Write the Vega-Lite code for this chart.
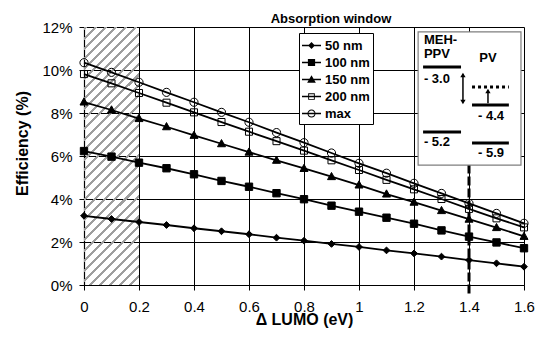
{
  "$schema": "https://vega.github.io/schema/vega-lite/v6.json",
  "width": 440,
  "height": 258,
  "autosize": {"type": "none"},
  "padding": {"left": 84, "top": 27, "right": 12, "bottom": 56},
  "config": {
    "font": "Liberation Sans",
    "view": {"stroke": null},
    "axis": {"labelColor": "black", "titleColor": "black", "domainColor": "black", "tickColor": "black", "gridColor": "#000000", "gridOpacity": 1, "gridWidth": 1, "gridDash": [], "domainWidth": 1.2}
  },
  "title": {"text": "Absorption window", "fontSize": 13, "fontWeight": "bold", "color": "black", "anchor": "middle", "dx": 27, "offset": -6},
  "resolve": {"scale": {"shape": "independent"}, "legend": {"shape": "independent"}},
  "datasets": {
    "series": [
      {"s": "50 nm", "x": 0, "y": 3.22}, {"s": "50 nm", "x": 0.1, "y": 3.07}, {"s": "50 nm", "x": 0.2, "y": 2.93}, {"s": "50 nm", "x": 0.3, "y": 2.79}, {"s": "50 nm", "x": 0.4, "y": 2.64}, {"s": "50 nm", "x": 0.5, "y": 2.5}, {"s": "50 nm", "x": 0.6, "y": 2.36}, {"s": "50 nm", "x": 0.7, "y": 2.2}, {"s": "50 nm", "x": 0.8, "y": 2.06}, {"s": "50 nm", "x": 0.9, "y": 1.91}, {"s": "50 nm", "x": 1.0, "y": 1.77}, {"s": "50 nm", "x": 1.1, "y": 1.61}, {"s": "50 nm", "x": 1.2, "y": 1.47}, {"s": "50 nm", "x": 1.3, "y": 1.32}, {"s": "50 nm", "x": 1.4, "y": 1.16}, {"s": "50 nm", "x": 1.5, "y": 1.01}, {"s": "50 nm", "x": 1.6, "y": 0.85},
      {"s": "100 nm", "x": 0, "y": 6.23}, {"s": "100 nm", "x": 0.1, "y": 5.97}, {"s": "100 nm", "x": 0.2, "y": 5.69}, {"s": "100 nm", "x": 0.3, "y": 5.43}, {"s": "100 nm", "x": 0.4, "y": 5.15}, {"s": "100 nm", "x": 0.5, "y": 4.84}, {"s": "100 nm", "x": 0.6, "y": 4.57}, {"s": "100 nm", "x": 0.7, "y": 4.27}, {"s": "100 nm", "x": 0.8, "y": 3.99}, {"s": "100 nm", "x": 0.9, "y": 3.69}, {"s": "100 nm", "x": 1.0, "y": 3.41}, {"s": "100 nm", "x": 1.1, "y": 3.13}, {"s": "100 nm", "x": 1.2, "y": 2.85}, {"s": "100 nm", "x": 1.3, "y": 2.54}, {"s": "100 nm", "x": 1.4, "y": 2.25}, {"s": "100 nm", "x": 1.5, "y": 1.98}, {"s": "100 nm", "x": 1.6, "y": 1.71},
      {"s": "150 nm", "x": 0, "y": 8.51}, {"s": "150 nm", "x": 0.1, "y": 8.14}, {"s": "150 nm", "x": 0.2, "y": 7.74}, {"s": "150 nm", "x": 0.3, "y": 7.36}, {"s": "150 nm", "x": 0.4, "y": 6.96}, {"s": "150 nm", "x": 0.5, "y": 6.57}, {"s": "150 nm", "x": 0.6, "y": 6.18}, {"s": "150 nm", "x": 0.7, "y": 5.8}, {"s": "150 nm", "x": 0.8, "y": 5.42}, {"s": "150 nm", "x": 0.9, "y": 5.04}, {"s": "150 nm", "x": 1.0, "y": 4.65}, {"s": "150 nm", "x": 1.1, "y": 4.23}, {"s": "150 nm", "x": 1.2, "y": 3.85}, {"s": "150 nm", "x": 1.3, "y": 3.46}, {"s": "150 nm", "x": 1.4, "y": 3.06}, {"s": "150 nm", "x": 1.5, "y": 2.67}, {"s": "150 nm", "x": 1.6, "y": 2.26},
      {"s": "200 nm", "x": 0, "y": 9.81}, {"s": "200 nm", "x": 0.1, "y": 9.38}, {"s": "200 nm", "x": 0.2, "y": 8.93}, {"s": "200 nm", "x": 0.3, "y": 8.48}, {"s": "200 nm", "x": 0.4, "y": 8.03}, {"s": "200 nm", "x": 0.5, "y": 7.58}, {"s": "200 nm", "x": 0.6, "y": 7.13}, {"s": "200 nm", "x": 0.7, "y": 6.69}, {"s": "200 nm", "x": 0.8, "y": 6.25}, {"s": "200 nm", "x": 0.9, "y": 5.8}, {"s": "200 nm", "x": 1.0, "y": 5.35}, {"s": "200 nm", "x": 1.1, "y": 4.89}, {"s": "200 nm", "x": 1.2, "y": 4.45}, {"s": "200 nm", "x": 1.3, "y": 4.0}, {"s": "200 nm", "x": 1.4, "y": 3.54}, {"s": "200 nm", "x": 1.5, "y": 3.1}, {"s": "200 nm", "x": 1.6, "y": 2.68},
      {"s": "max", "x": 0, "y": 10.34}, {"s": "max", "x": 0.1, "y": 9.89}, {"s": "max", "x": 0.2, "y": 9.43}, {"s": "max", "x": 0.3, "y": 8.96}, {"s": "max", "x": 0.4, "y": 8.5}, {"s": "max", "x": 0.5, "y": 8.03}, {"s": "max", "x": 0.6, "y": 7.57}, {"s": "max", "x": 0.7, "y": 7.09}, {"s": "max", "x": 0.8, "y": 6.62}, {"s": "max", "x": 0.9, "y": 6.14}, {"s": "max", "x": 1.0, "y": 5.66}, {"s": "max", "x": 1.1, "y": 5.2}, {"s": "max", "x": 1.2, "y": 4.73}, {"s": "max", "x": 1.3, "y": 4.26}, {"s": "max", "x": 1.4, "y": 3.8}, {"s": "max", "x": 1.5, "y": 3.33}, {"s": "max", "x": 1.6, "y": 2.87}
    ],
    "window": [{"x": 0, "x2": 0.2, "y": 0, "y2": 12}],
    "marker": [{"x": 1.4, "y": -0.4, "y2": 5.6}],
    "box": [{"x": 1.215, "x2": 1.589, "y": 5.58, "y2": 11.77}],
    "levels": [
      {"x": 1.233, "x2": 1.371, "y": 10.14},
      {"x": 1.233, "x2": 1.371, "y": 7.12},
      {"x": 1.411, "x2": 1.545, "y": 8.37},
      {"x": 1.411, "x2": 1.545, "y": 6.6}
    ],
    "dotted": [{"x": 1.411, "x2": 1.545, "y": 9.21}],
    "shafts": [{"x": 1.378, "y": 8.5, "y2": 9.8}, {"x": 1.469, "y": 8.45, "y2": 9.05}],
    "headsUp": [{"x": 1.378, "y": 9.77}, {"x": 1.469, "y": 9.02}],
    "headsDown": [{"x": 1.378, "y": 8.51}],
    "leftText": [
      {"t": "MEH-", "x": 1.236, "y": 11.4},
      {"t": "PPV", "x": 1.236, "y": 10.74},
      {"t": "- 3.0", "x": 1.236, "y": 9.58},
      {"t": "- 5.2", "x": 1.236, "y": 6.65}
    ],
    "centerText": [
      {"t": "PV", "x": 1.469, "y": 10.56},
      {"t": "- 4.4", "x": 1.48, "y": 7.86},
      {"t": "- 5.9", "x": 1.48, "y": 6.14}
    ]
  },
  "encoding": {
    "x": {
      "field": "x", "type": "quantitative",
      "scale": {"domain": [0, 1.6], "nice": false, "zero": false},
      "axis": {"values": [0, 0.2, 0.4, 0.6, 0.8, 1, 1.2, 1.4, 1.6], "format": "~g", "grid": true, "gridColor": "#000000", "gridDash": [], "labelFontSize": 15, "labelFlush": false, "tickSize": 5, "labelPadding": 9, "title": "Δ LUMO (eV)", "titleFontSize": 16, "titleFontWeight": "bold", "titlePadding": -3}
    },
    "y": {
      "field": "y", "type": "quantitative",
      "scale": {"domain": [0, 12], "nice": false, "zero": false},
      "axis": {"values": [0, 2, 4, 6, 8, 10, 12], "labelExpr": "datum.value + '%'", "grid": true, "gridColor": "#000000", "gridDash": [], "labelFontSize": 15, "labelFlush": false, "tickSize": 5, "labelPadding": 7, "title": "Efficiency (%)", "titleFontSize": 16, "titleFontWeight": "bold", "titlePadding": 11, "titleY": 116}
    }
  },
  "layer": [
    {
      "data": {"name": "window"},
      "mark": {
        "type": "rect",
        "fill": {
          "gradient": "linear", "x1": 0, "y1": 0, "x2": 0.247, "y2": 1.16,
          "stops": [
            {"offset": 0, "color": "#9e9e9e"}, {"offset": 0.0097, "color": "#9e9e9e"}, {"offset": 0.0097, "color": "rgba(255,255,255,0)"}, {"offset": 0.03226, "color": "rgba(255,255,255,0)"},
            {"offset": 0.03226, "color": "#9e9e9e"}, {"offset": 0.04194, "color": "#9e9e9e"}, {"offset": 0.04194, "color": "rgba(255,255,255,0)"}, {"offset": 0.06452, "color": "rgba(255,255,255,0)"},
            {"offset": 0.06452, "color": "#9e9e9e"}, {"offset": 0.0742, "color": "#9e9e9e"}, {"offset": 0.0742, "color": "rgba(255,255,255,0)"}, {"offset": 0.09677, "color": "rgba(255,255,255,0)"},
            {"offset": 0.09677, "color": "#9e9e9e"}, {"offset": 0.10645, "color": "#9e9e9e"}, {"offset": 0.10645, "color": "rgba(255,255,255,0)"}, {"offset": 0.12903, "color": "rgba(255,255,255,0)"},
            {"offset": 0.12903, "color": "#9e9e9e"}, {"offset": 0.13871, "color": "#9e9e9e"}, {"offset": 0.13871, "color": "rgba(255,255,255,0)"}, {"offset": 0.16129, "color": "rgba(255,255,255,0)"},
            {"offset": 0.16129, "color": "#9e9e9e"}, {"offset": 0.17097, "color": "#9e9e9e"}, {"offset": 0.17097, "color": "rgba(255,255,255,0)"}, {"offset": 0.19355, "color": "rgba(255,255,255,0)"},
            {"offset": 0.19355, "color": "#9e9e9e"}, {"offset": 0.20323, "color": "#9e9e9e"}, {"offset": 0.20323, "color": "rgba(255,255,255,0)"}, {"offset": 0.22581, "color": "rgba(255,255,255,0)"},
            {"offset": 0.22581, "color": "#9e9e9e"}, {"offset": 0.23549, "color": "#9e9e9e"}, {"offset": 0.23549, "color": "rgba(255,255,255,0)"}, {"offset": 0.25806, "color": "rgba(255,255,255,0)"},
            {"offset": 0.25806, "color": "#9e9e9e"}, {"offset": 0.26774, "color": "#9e9e9e"}, {"offset": 0.26774, "color": "rgba(255,255,255,0)"}, {"offset": 0.29032, "color": "rgba(255,255,255,0)"},
            {"offset": 0.29032, "color": "#9e9e9e"}, {"offset": 0.3, "color": "#9e9e9e"}, {"offset": 0.3, "color": "rgba(255,255,255,0)"}, {"offset": 0.32258, "color": "rgba(255,255,255,0)"},
            {"offset": 0.32258, "color": "#9e9e9e"}, {"offset": 0.33226, "color": "#9e9e9e"}, {"offset": 0.33226, "color": "rgba(255,255,255,0)"}, {"offset": 0.35484, "color": "rgba(255,255,255,0)"},
            {"offset": 0.35484, "color": "#9e9e9e"}, {"offset": 0.36452, "color": "#9e9e9e"}, {"offset": 0.36452, "color": "rgba(255,255,255,0)"}, {"offset": 0.3871, "color": "rgba(255,255,255,0)"},
            {"offset": 0.3871, "color": "#9e9e9e"}, {"offset": 0.39678, "color": "#9e9e9e"}, {"offset": 0.39678, "color": "rgba(255,255,255,0)"}, {"offset": 0.41935, "color": "rgba(255,255,255,0)"},
            {"offset": 0.41935, "color": "#9e9e9e"}, {"offset": 0.42903, "color": "#9e9e9e"}, {"offset": 0.42903, "color": "rgba(255,255,255,0)"}, {"offset": 0.45161, "color": "rgba(255,255,255,0)"},
            {"offset": 0.45161, "color": "#9e9e9e"}, {"offset": 0.46129, "color": "#9e9e9e"}, {"offset": 0.46129, "color": "rgba(255,255,255,0)"}, {"offset": 0.48387, "color": "rgba(255,255,255,0)"},
            {"offset": 0.48387, "color": "#9e9e9e"}, {"offset": 0.49355, "color": "#9e9e9e"}, {"offset": 0.49355, "color": "rgba(255,255,255,0)"}, {"offset": 0.51613, "color": "rgba(255,255,255,0)"},
            {"offset": 0.51613, "color": "#9e9e9e"}, {"offset": 0.52581, "color": "#9e9e9e"}, {"offset": 0.52581, "color": "rgba(255,255,255,0)"}, {"offset": 0.54839, "color": "rgba(255,255,255,0)"},
            {"offset": 0.54839, "color": "#9e9e9e"}, {"offset": 0.55807, "color": "#9e9e9e"}, {"offset": 0.55807, "color": "rgba(255,255,255,0)"}, {"offset": 0.58065, "color": "rgba(255,255,255,0)"},
            {"offset": 0.58065, "color": "#9e9e9e"}, {"offset": 0.59033, "color": "#9e9e9e"}, {"offset": 0.59033, "color": "rgba(255,255,255,0)"}, {"offset": 0.6129, "color": "rgba(255,255,255,0)"},
            {"offset": 0.6129, "color": "#9e9e9e"}, {"offset": 0.62258, "color": "#9e9e9e"}, {"offset": 0.62258, "color": "rgba(255,255,255,0)"}, {"offset": 0.64516, "color": "rgba(255,255,255,0)"},
            {"offset": 0.64516, "color": "#9e9e9e"}, {"offset": 0.65484, "color": "#9e9e9e"}, {"offset": 0.65484, "color": "rgba(255,255,255,0)"}, {"offset": 0.67742, "color": "rgba(255,255,255,0)"},
            {"offset": 0.67742, "color": "#9e9e9e"}, {"offset": 0.6871, "color": "#9e9e9e"}, {"offset": 0.6871, "color": "rgba(255,255,255,0)"}, {"offset": 0.70968, "color": "rgba(255,255,255,0)"},
            {"offset": 0.70968, "color": "#9e9e9e"}, {"offset": 0.71936, "color": "#9e9e9e"}, {"offset": 0.71936, "color": "rgba(255,255,255,0)"}, {"offset": 0.74194, "color": "rgba(255,255,255,0)"},
            {"offset": 0.74194, "color": "#9e9e9e"}, {"offset": 0.75162, "color": "#9e9e9e"}, {"offset": 0.75162, "color": "rgba(255,255,255,0)"}, {"offset": 0.77419, "color": "rgba(255,255,255,0)"},
            {"offset": 0.77419, "color": "#9e9e9e"}, {"offset": 0.78387, "color": "#9e9e9e"}, {"offset": 0.78387, "color": "rgba(255,255,255,0)"}, {"offset": 0.80645, "color": "rgba(255,255,255,0)"},
            {"offset": 0.80645, "color": "#9e9e9e"}, {"offset": 0.81613, "color": "#9e9e9e"}, {"offset": 0.81613, "color": "rgba(255,255,255,0)"}, {"offset": 0.83871, "color": "rgba(255,255,255,0)"},
            {"offset": 0.83871, "color": "#9e9e9e"}, {"offset": 0.84839, "color": "#9e9e9e"}, {"offset": 0.84839, "color": "rgba(255,255,255,0)"}, {"offset": 0.87097, "color": "rgba(255,255,255,0)"},
            {"offset": 0.87097, "color": "#9e9e9e"}, {"offset": 0.88065, "color": "#9e9e9e"}, {"offset": 0.88065, "color": "rgba(255,255,255,0)"}, {"offset": 0.90323, "color": "rgba(255,255,255,0)"},
            {"offset": 0.90323, "color": "#9e9e9e"}, {"offset": 0.91291, "color": "#9e9e9e"}, {"offset": 0.91291, "color": "rgba(255,255,255,0)"}, {"offset": 0.93548, "color": "rgba(255,255,255,0)"},
            {"offset": 0.93548, "color": "#9e9e9e"}, {"offset": 0.94516, "color": "#9e9e9e"}, {"offset": 0.94516, "color": "rgba(255,255,255,0)"}, {"offset": 0.96774, "color": "rgba(255,255,255,0)"},
            {"offset": 0.96774, "color": "#9e9e9e"}, {"offset": 0.97742, "color": "#9e9e9e"}, {"offset": 0.97742, "color": "rgba(255,255,255,0)"}, {"offset": 1, "color": "rgba(255,255,255,0)"}
          ]
        }
      },
      "encoding": {"x2": {"field": "x2"}, "y2": {"field": "y2"}}
    },
    {
      "data": {"name": "series"},
      "mark": {"type": "line", "color": "black", "strokeWidth": 1.8},
      "encoding": {"detail": {"field": "s"}}
    },
    {
      "data": {"name": "series"},
      "mark": {"type": "point", "stroke": "black", "strokeWidth": 1, "opacity": 1, "size": 64},
      "encoding": {
        "shape": {
          "field": "s", "type": "nominal", "legend": null,
          "scale": {"domain": ["50 nm", "100 nm", "150 nm", "200 nm", "max"], "range": ["M0,-0.85L0.85,0L0,0.85L-0.85,0Z", "M-0.92,-0.92H0.92V0.92H-0.92Z", "M0,-1.05L1,0.75H-1Z", "M-0.88,-0.88H0.88V0.88H-0.88Z", "M1.02,0A1.02,1.02 0 1,1 -1.02,0A1.02,1.02 0 1,1 1.02,0Z"]}
        },
        "fill": {
          "field": "s", "type": "nominal", "legend": null,
          "scale": {"domain": ["50 nm", "100 nm", "150 nm", "200 nm", "max"], "range": ["black", "black", "black", "transparent", "transparent"]}
        }
      }
    },
    {
      "data": {"name": "series"},
      "mark": {"type": "point", "filled": true, "color": "black", "opacity": 0, "size": 361},
      "encoding": {
        "shape": {
          "field": "s", "type": "nominal", "title": null,
          "scale": {"domain": ["50 nm", "100 nm", "150 nm", "200 nm", "max"], "range": [
            "M-1,-0.09H1V0.09H-1ZM0,-0.36L0.36,0L0,0.36L-0.36,0Z",
            "M-1,-0.09H1V0.09H-1ZM-0.38,-0.38H0.38V0.38H-0.38Z",
            "M-1,-0.09H1V0.09H-1ZM0,-0.46L0.46,0.33H-0.46Z",
            "M-1,-0.09H1V0.09H-1ZM-0.35,-0.35H0.35V0.35H-0.35ZM-0.25,-0.25V0.25H0.25V-0.25Z",
            "M-1,-0.09H1V0.09H-1ZM0.43,0A0.43,0.43 0 1,1 -0.43,0A0.43,0.43 0 1,1 0.43,0ZM0.32,0A0.32,0.32 0 1,0 -0.32,0A0.32,0.32 0 1,0 0.32,0Z"
          ]},
          "legend": {
            "orient": "none", "legendX": 215, "legendY": 6,
            "padding": 3, "strokeColor": "black", "fillColor": "white",
            "labelFontSize": 13, "labelFontWeight": "bold", "labelColor": "black", "labelOffset": 4,
            "symbolSize": 361, "rowPadding": 0, "symbolOpacity": 1, "symbolFillColor": "black", "symbolStrokeWidth": 0
          }
        }
      }
    },
    {
      "data": {"name": "marker"},
      "mark": {"type": "rule", "color": "black", "strokeWidth": 3, "strokeDash": [9, 3], "clip": false},
      "encoding": {"y2": {"field": "y2"}}
    },
    {
      "data": {"name": "box"},
      "mark": {"type": "rect", "fill": "white", "stroke": "#7f7f7f", "strokeWidth": 1.2},
      "encoding": {"x2": {"field": "x2"}, "y2": {"field": "y2"}}
    },
    {
      "data": {"name": "levels"},
      "mark": {"type": "rule", "color": "black", "strokeWidth": 3},
      "encoding": {"x2": {"field": "x2"}}
    },
    {
      "data": {"name": "dotted"},
      "mark": {"type": "rule", "color": "black", "strokeWidth": 3, "strokeDash": [3, 3]},
      "encoding": {"x2": {"field": "x2"}}
    },
    {
      "data": {"name": "shafts"},
      "mark": {"type": "rule", "color": "black", "strokeWidth": 1.5},
      "encoding": {"y2": {"field": "y2"}}
    },
    {
      "data": {"name": "headsUp"},
      "mark": {"type": "point", "shape": "triangle-up", "filled": true, "color": "black", "size": 28, "opacity": 1},
      "encoding": {}
    },
    {
      "data": {"name": "headsDown"},
      "mark": {"type": "point", "shape": "triangle-down", "filled": true, "color": "black", "size": 28, "opacity": 1},
      "encoding": {}
    },
    {
      "data": {"name": "leftText"},
      "mark": {"type": "text", "align": "left", "baseline": "middle", "fontSize": 13, "fontWeight": "bold", "color": "black"},
      "encoding": {"text": {"field": "t"}}
    },
    {
      "data": {"name": "centerText"},
      "mark": {"type": "text", "align": "center", "baseline": "middle", "fontSize": 13, "fontWeight": "bold", "color": "black"},
      "encoding": {"text": {"field": "t"}}
    }
  ]
}
